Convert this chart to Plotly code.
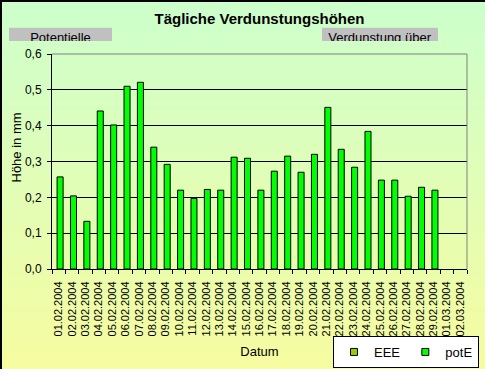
import base64, struct, zlib
import plotly.graph_objects as go

# ---------------- data ----------------
dates = ["01.02.2004", "02.02.2004", "03.02.2004", "04.02.2004", "05.02.2004",
         "06.02.2004", "07.02.2004", "08.02.2004", "09.02.2004", "10.02.2004",
         "11.02.2004", "12.02.2004", "13.02.2004", "14.02.2004", "15.02.2004",
         "16.02.2004", "17.02.2004", "18.02.2004", "19.02.2004", "20.02.2004",
         "21.02.2004", "22.02.2004", "23.02.2004", "24.02.2004", "25.02.2004",
         "26.02.2004", "27.02.2004", "28.02.2004", "29.02.2004", "01.03.2004",
         "02.03.2004"]
eee = [None] * 31
pot_e = [0.257, 0.204, 0.133, 0.441, 0.402, 0.510, 0.521, 0.340, 0.292, 0.220,
         0.197, 0.222, 0.220, 0.312, 0.309, 0.220, 0.273, 0.315, 0.270, 0.320,
         0.451, 0.334, 0.284, 0.384, 0.248, 0.248, 0.203, 0.228, 0.220, None,
         None]
y_ticks = [0.0, 0.1, 0.2, 0.3, 0.4, 0.5, 0.6]

# ---------------- geometry helpers ----------------
W, H = 485, 369
L, R, T, B = 52, 467, 54, 269


def px_x(p):
    return (p - L) / (R - L)


def px_y(p):
    return (B - p) / (B - T)


# gradient background png (top light green -> bottom light yellow)
def gradient_png(h, c0, c1):
    raw = b""
    for i in range(h):
        t = i / (h - 1)
        c = bytes(int(round(c0[k] + (c1[k] - c0[k]) * t)) for k in range(3))
        raw += b"\x00" + c
    def chunk(tag, data):
        return (struct.pack(">I", len(data)) + tag + data +
                struct.pack(">I", zlib.crc32(tag + data) & 0xffffffff))
    png = b"\x89PNG\r\n\x1a\n"
    png += chunk(b"IHDR", struct.pack(">IIBBBBB", 1, h, 8, 2, 0, 0, 0))
    png += chunk(b"IDAT", zlib.compress(raw))
    png += chunk(b"IEND", b"")
    return "data:image/png;base64," + base64.b64encode(png).decode()


bg = gradient_png(H, (204, 255, 204), (246, 252, 160))

FONT = "Arial, 'Liberation Sans', sans-serif"

fig = go.Figure()
fig.add_trace(go.Bar(x=dates, y=eee, name="EEE", marker_color="#99CC00",
                     marker_line=dict(color="black", width=1), showlegend=False))
fig.add_trace(go.Bar(x=dates, y=pot_e, name="potE", marker_color="#00FF00",
                     marker_line=dict(color="black", width=1), showlegend=False,
                     width=0.45, offset=-0.12))
# legend entries
fig.add_trace(go.Scatter(x=[None], y=[None], mode="markers", name="EEE",
                         marker=dict(symbol="square", size=7, color="#99CC00",
                                     line=dict(color="black", width=1))))
fig.add_trace(go.Scatter(x=[None], y=[None], mode="markers", name="potE",
                         marker=dict(symbol="square", size=7, color="#00FF00",
                                     line=dict(color="black", width=1))))

fig.update_layout(
    width=W, height=H,
    margin=dict(l=L, r=W - R, t=T, b=H - B, autoexpand=False),
    paper_bgcolor="#CCFFCC",
    plot_bgcolor="#C0C0C0",
    separators=",.",
    font=dict(family=FONT, color="black", size=12),
    title=dict(text="Tägliche Verdunstungshöhen", x=0.5, xanchor="center",
               xref="paper", y=1 - 19 / H, yanchor="middle", yref="container",
               font=dict(size=15, weight="bold", family=FONT)),
    barmode="overlay",
    showlegend=True,
    legend=dict(orientation="h", x=px_x(479), xanchor="right", y=px_y(368),
                yanchor="bottom", bgcolor="white", bordercolor="black",
                borderwidth=1, font=dict(size=13), itemwidth=30),
    images=[dict(source=bg, xref="paper", yref="paper", x=px_x(0), y=px_y(0),
                 sizex=W / (R - L), sizey=H / (B - T), sizing="stretch",
                 xanchor="left", yanchor="top", layer="below")],
)

fig.update_xaxes(type="category", range=[-0.5, 30.5], tickson="boundaries",
                 tickmode="array", tickvals=dates, ticktext=dates,
                 ticks="outside", ticklen=4, tickcolor="black", tickwidth=1,
                 tickangle=-90, tickfont=dict(size=11), showline=True,
                 linecolor="black", linewidth=1, showgrid=False,
                 automargin=False, ticklabelstandoff=7,
                 title=dict(text="Datum", font=dict(size=13), standoff=11))
fig.update_yaxes(range=[0, 0.6], tickvals=y_ticks, tickformat=".1f",
                 ticks="outside", ticklen=4, tickcolor="black",
                 tickfont=dict(size=12), showline=True, linecolor="black",
                 linewidth=1, showgrid=True, gridcolor="black", gridwidth=1,
                 zeroline=False, ticklabelstandoff=3, automargin=False)

# y axis title
fig.add_annotation(text="Höhe in mm", textangle=-90, xref="paper", yref="paper",
                   x=px_x(16), y=px_y(147.5), xanchor="center", yanchor="middle",
                   showarrow=False, font=dict(size=13))

# grey text boxes whose text is clipped at the bottom
for txt, x0, x1 in [("Potentielle", 9, 112), ("Verdunstung über", 322, 438)]:
    fig.add_shape(type="rect", xref="paper", yref="paper",
                  x0=px_x(x0), x1=px_x(x1), y0=px_y(27.7), y1=px_y(41),
                  fillcolor="#C0C0C0", line=dict(width=0), layer="above")
    fig.add_annotation(text=txt, xref="paper", yref="paper",
                       x=px_x(x0), y=px_y(30.0), xanchor="left", yanchor="top",
                       width=x1 - x0, height=11, borderpad=0, borderwidth=0,
                       valign="top", align="center", showarrow=False,
                       font=dict(size=13))

# plot area gray frame (top and right)
fig.add_shape(type="line", xref="paper", yref="paper", x0=0, x1=1, y0=1, y1=1,
              line=dict(color="#808080", width=1))
fig.add_shape(type="line", xref="paper", yref="paper", x0=1, x1=1, y0=0, y1=1,
              line=dict(color="#808080", width=1))
# chart outer border (left & top)
fig.add_shape(type="line", xref="paper", yref="paper", x0=px_x(1), x1=px_x(1),
              y0=px_y(0), y1=px_y(H), line=dict(color="black", width=2))
fig.add_shape(type="line", xref="paper", yref="paper", x0=px_x(0), x1=px_x(W),
              y0=px_y(1), y1=px_y(1), line=dict(color="black", width=2))

fig.write_html("out.html", config={"displayModeBar": False},
               post_script="document.body.style.margin='0px';"
                           "document.body.style.padding='0px';")
